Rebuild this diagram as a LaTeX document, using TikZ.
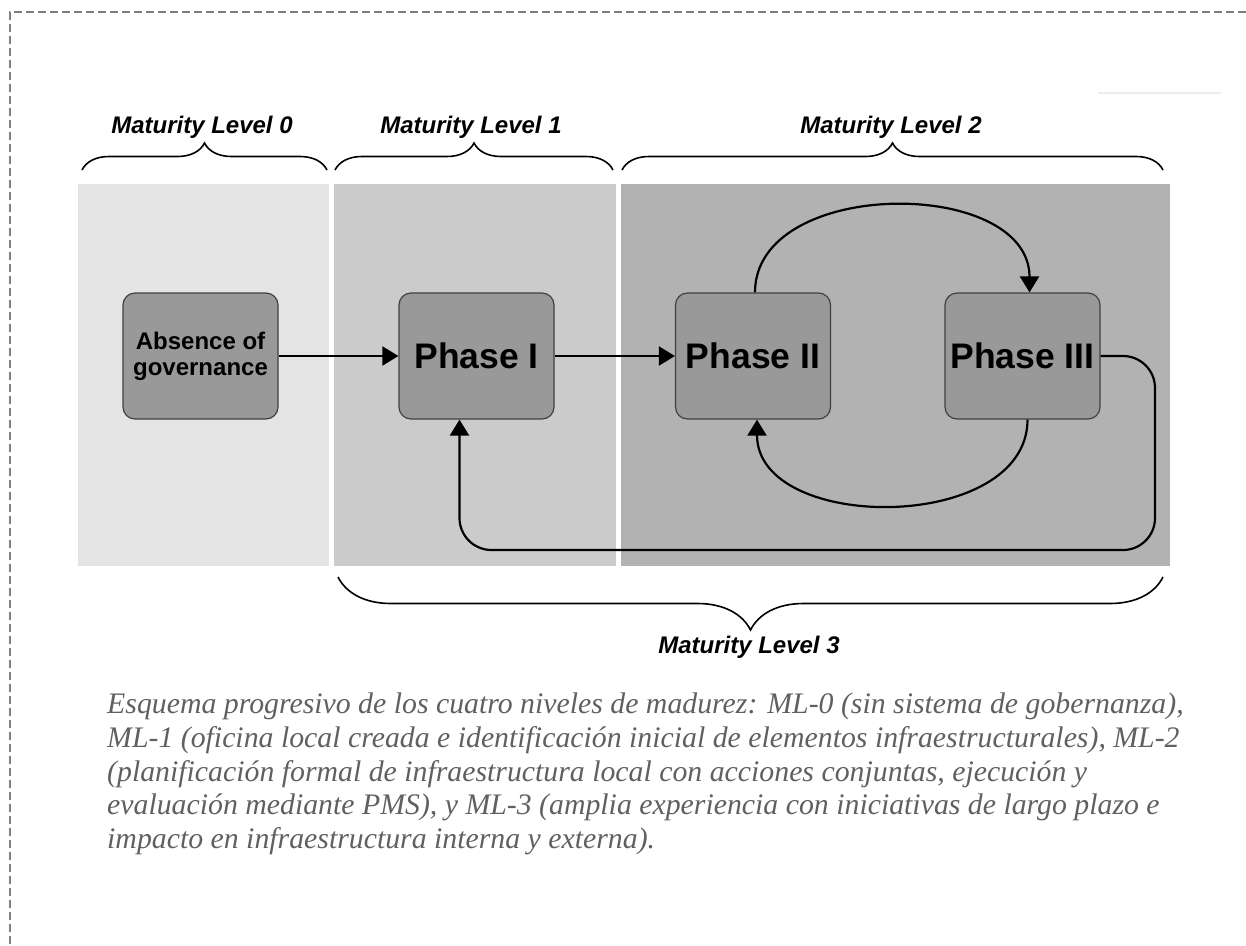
\documentclass[tikz,border=0pt]{standalone}
\usepackage{fontspec}
\setmainfont{Liberation Serif}
\setsansfont{Liberation Sans}
\usetikzlibrary{arrows.meta,decorations.pathreplacing,positioning}

\definecolor{panelzero}{RGB}{228,228,228}
\definecolor{panelone}{RGB}{203,203,203}
\definecolor{paneltwo}{RGB}{178,178,178}
\definecolor{phasefill}{RGB}{153,153,153}
\definecolor{phaseline}{RGB}{64,64,64}
\definecolor{captiongray}{RGB}{96,96,96}
\definecolor{framegray}{RGB}{128,128,128}

\begin{document}
\begin{tikzpicture}[x=1pt,y=-1pt,
  phase/.style={draw=phaseline, line width=1.2pt, fill=phasefill, rounded corners=12pt,
    minimum width=155pt, minimum height=126pt, inner sep=0pt, align=center,
    font=\sffamily\bfseries\fontsize{35.5}{38}\selectfont},
  flow/.style={line width=2.2pt, -{Triangle[length=16pt,width=19pt]}},
  lvlbrace/.style={decorate, decoration={brace, amplitude=27pt}, line width=1.6pt},
  lvllabel/.style={anchor=base, inner sep=0pt, font=\sffamily\bfseries\itshape\fontsize{24}{28}\selectfont},
  caption/.style={anchor=north west, inner sep=0pt, align=left, text=captiongray,
    font=\itshape\fontsize{29.8}{33.6}\selectfont}]
  \useasboundingbox (0,0) rectangle (1246,945);
  % outer frame
  \draw[framegray, line width=1.8pt, dash pattern=on 8pt off 4pt] (1246,12) -- (10,12) -- (10,945);
  \draw[black!7, line width=2pt] (1098,93) -- (1221,93);
  % level panels
  \fill[panelzero] (78,184) rectangle (329,566);
  \fill[panelone] (334,184) rectangle (616,566);
  \fill[paneltwo] (621,184) rectangle (1170,566);
  % phases
  \node[phase, font=\sffamily\bfseries\fontsize{24}{26}\selectfont] (absence) at (200.5,356) {Absence of\\governance};
  \node[phase] (ph1) at (476.5,356) {Phase I};
  \node[phase] (ph2) at (753,356) {Phase II};
  \node[phase] (ph3) at (1022.5,356) {Phase III};
  % transitions
  \draw[flow] (absence) -- (ph1);
  \draw[flow] (ph1) -- (ph2);
  \draw[flow] ([xshift=2pt]ph2.north) to[out=90, in=90, looseness=1.08] ([xshift=7pt]ph3.north);
  \draw[flow] ([xshift=5pt]ph3.south) to[out=-90, in=-90, looseness=1.08] ([xshift=4pt]ph2.south);
  \coordinate (loopcorner) at (1155,550);
  \draw[flow, rounded corners=32pt] (ph3.east) -| (loopcorner) -| ([xshift=-17pt]ph1.south);
  % maturity levels
  \draw[lvlbrace] (82,170) -- (327,170);
  \node[lvllabel] (mlzero) at (202,133) {Maturity Level 0};
  \draw[lvlbrace] (335,170) -- (613,170);
  \node[lvllabel] (mlone) at (471,133) {Maturity Level 1};
  \draw[lvlbrace] (622,170) -- (1163,170);
  \node[lvllabel] (mltwo) at (891,133) {Maturity Level 2};
  \draw[lvlbrace, decoration={amplitude=53pt}] (1163,577) -- (338,577);
  \node[lvllabel] (mlthree) at (749,653) {Maturity Level 3};
  % caption
  \node[caption] (cap) at (107,693) {Esquema progresivo de los cuatro niveles de madurez: ML-0 (sin sistema de gobernanza),\\
    ML-1 (oficina local creada e identificación inicial de elementos infraestructurales), ML-2\\
    (planificación formal de infraestructura local con acciones conjuntas, ejecución y\\
    evaluación mediante PMS), y ML-3 (amplia experiencia con iniciativas de largo plazo e\\
    impacto en infraestructura interna y externa).};
\end{tikzpicture}
\end{document}
